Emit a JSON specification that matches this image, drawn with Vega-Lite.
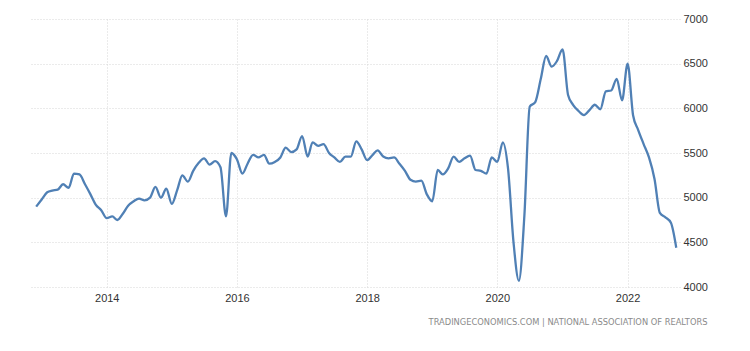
{
  "$schema": "https://vega.github.io/schema/vega-lite/v6.json",
  "autosize": {"type": "none"},
  "width": 649,
  "height": 268,
  "padding": {"left": 31, "top": 19, "right": 70, "bottom": 64},
  "background": "white",
  "title": {
    "text": "TRADINGECONOMICS.COM  |  NATIONAL ASSOCIATION OF REALTORS",
    "orient": "bottom",
    "anchor": "end",
    "fontSize": 8.3,
    "font": "DejaVu Sans",
    "fontWeight": "normal",
    "color": "#8a8a8a",
    "offset": 15,
    "dx": 0
  },
  "data": {
    "values": [
      {"date": "2012-12-01", "value": 4900},
      {"date": "2013-01-01", "value": 4980},
      {"date": "2013-02-01", "value": 5060},
      {"date": "2013-03-01", "value": 5080},
      {"date": "2013-04-01", "value": 5090},
      {"date": "2013-05-01", "value": 5150},
      {"date": "2013-06-01", "value": 5110},
      {"date": "2013-07-01", "value": 5270},
      {"date": "2013-08-01", "value": 5260},
      {"date": "2013-09-01", "value": 5150},
      {"date": "2013-10-01", "value": 5040},
      {"date": "2013-11-01", "value": 4920},
      {"date": "2013-12-01", "value": 4860},
      {"date": "2014-01-01", "value": 4770},
      {"date": "2014-02-01", "value": 4790},
      {"date": "2014-03-01", "value": 4750},
      {"date": "2014-04-01", "value": 4820},
      {"date": "2014-05-01", "value": 4910},
      {"date": "2014-06-01", "value": 4960},
      {"date": "2014-07-01", "value": 4990},
      {"date": "2014-08-01", "value": 4970},
      {"date": "2014-09-01", "value": 5000},
      {"date": "2014-10-01", "value": 5120},
      {"date": "2014-11-01", "value": 5000},
      {"date": "2014-12-01", "value": 5100},
      {"date": "2015-01-01", "value": 4930},
      {"date": "2015-02-01", "value": 5090},
      {"date": "2015-03-01", "value": 5250},
      {"date": "2015-04-01", "value": 5180},
      {"date": "2015-05-01", "value": 5300},
      {"date": "2015-06-01", "value": 5390},
      {"date": "2015-07-01", "value": 5440},
      {"date": "2015-08-01", "value": 5370},
      {"date": "2015-09-01", "value": 5410},
      {"date": "2015-10-01", "value": 5340},
      {"date": "2015-11-01", "value": 4790},
      {"date": "2015-12-01", "value": 5500},
      {"date": "2016-01-01", "value": 5430},
      {"date": "2016-02-01", "value": 5270},
      {"date": "2016-03-01", "value": 5380},
      {"date": "2016-04-01", "value": 5480},
      {"date": "2016-05-01", "value": 5450},
      {"date": "2016-06-01", "value": 5480},
      {"date": "2016-07-01", "value": 5380},
      {"date": "2016-08-01", "value": 5400},
      {"date": "2016-09-01", "value": 5450},
      {"date": "2016-10-01", "value": 5560},
      {"date": "2016-11-01", "value": 5510},
      {"date": "2016-12-01", "value": 5540},
      {"date": "2017-01-01", "value": 5690},
      {"date": "2017-02-01", "value": 5460},
      {"date": "2017-03-01", "value": 5620},
      {"date": "2017-04-01", "value": 5580},
      {"date": "2017-05-01", "value": 5600},
      {"date": "2017-06-01", "value": 5500},
      {"date": "2017-07-01", "value": 5450},
      {"date": "2017-08-01", "value": 5400},
      {"date": "2017-09-01", "value": 5460},
      {"date": "2017-10-01", "value": 5460},
      {"date": "2017-11-01", "value": 5630},
      {"date": "2017-12-01", "value": 5540},
      {"date": "2018-01-01", "value": 5420},
      {"date": "2018-02-01", "value": 5480},
      {"date": "2018-03-01", "value": 5530},
      {"date": "2018-04-01", "value": 5460},
      {"date": "2018-05-01", "value": 5440},
      {"date": "2018-06-01", "value": 5450},
      {"date": "2018-07-01", "value": 5380},
      {"date": "2018-08-01", "value": 5300},
      {"date": "2018-09-01", "value": 5200},
      {"date": "2018-10-01", "value": 5180},
      {"date": "2018-11-01", "value": 5190},
      {"date": "2018-12-01", "value": 5040},
      {"date": "2019-01-01", "value": 4960},
      {"date": "2019-02-01", "value": 5310},
      {"date": "2019-03-01", "value": 5260},
      {"date": "2019-04-01", "value": 5330},
      {"date": "2019-05-01", "value": 5460},
      {"date": "2019-06-01", "value": 5400},
      {"date": "2019-07-01", "value": 5440},
      {"date": "2019-08-01", "value": 5470},
      {"date": "2019-09-01", "value": 5310},
      {"date": "2019-10-01", "value": 5300},
      {"date": "2019-11-01", "value": 5270},
      {"date": "2019-12-01", "value": 5450},
      {"date": "2020-01-01", "value": 5400},
      {"date": "2020-02-01", "value": 5620},
      {"date": "2020-03-01", "value": 5330},
      {"date": "2020-04-01", "value": 4500},
      {"date": "2020-05-01", "value": 4070},
      {"date": "2020-06-01", "value": 4800},
      {"date": "2020-07-01", "value": 6020},
      {"date": "2020-08-01", "value": 6070},
      {"date": "2020-09-01", "value": 6330},
      {"date": "2020-10-01", "value": 6586},
      {"date": "2020-11-01", "value": 6466},
      {"date": "2020-12-01", "value": 6530},
      {"date": "2021-01-01", "value": 6660},
      {"date": "2021-02-01", "value": 6150},
      {"date": "2021-03-01", "value": 6040},
      {"date": "2021-04-01", "value": 5970},
      {"date": "2021-05-01", "value": 5925},
      {"date": "2021-06-01", "value": 5980},
      {"date": "2021-07-01", "value": 6040},
      {"date": "2021-08-01", "value": 5990},
      {"date": "2021-09-01", "value": 6190},
      {"date": "2021-10-01", "value": 6200},
      {"date": "2021-11-01", "value": 6330},
      {"date": "2021-12-01", "value": 6090},
      {"date": "2022-01-01", "value": 6500},
      {"date": "2022-02-01", "value": 5920},
      {"date": "2022-03-01", "value": 5760},
      {"date": "2022-04-01", "value": 5600},
      {"date": "2022-05-01", "value": 5450},
      {"date": "2022-06-01", "value": 5210},
      {"date": "2022-07-01", "value": 4830},
      {"date": "2022-08-01", "value": 4780},
      {"date": "2022-09-01", "value": 4720},
      {"date": "2022-10-01", "value": 4440}
    ]
  },
  "mark": {"type": "line", "interpolate": "monotone", "color": "#5080b5", "strokeWidth": 2.3},
  "encoding": {
    "x": {
      "field": "date",
      "type": "temporal",
      "scale": {
        "type": "utc",
        "domain": [
          {"year": 2012, "month": 11, "date": 2, "utc": true},
          {"year": 2022, "month": 10, "date": 22, "utc": true}
        ]
      },
      "axis": {
        "title": null,
        "values": [
          {"year": 2014, "month": 1, "date": 1, "utc": true},
          {"year": 2016, "month": 1, "date": 1, "utc": true},
          {"year": 2018, "month": 1, "date": 1, "utc": true},
          {"year": 2020, "month": 1, "date": 1, "utc": true},
          {"year": 2022, "month": 1, "date": 1, "utc": true}
        ],
        "format": "%Y",
        "formatType": "utc",
        "domain": false,
        "ticks": false,
        "labelPadding": 5,
        "labelFont": "Liberation Sans",
        "labelFontSize": 11,
        "labelColor": "#333333",
        "grid": true,
        "gridColor": "#d6d6d6",
        "gridDash": [1, 2],
        "gridWidth": 1
      }
    },
    "y": {
      "field": "value",
      "type": "quantitative",
      "scale": {"domain": [4000, 7000], "nice": false, "zero": false},
      "axis": {
        "title": null,
        "orient": "right",
        "values": [4000, 4500, 5000, 5500, 6000, 6500, 7000],
        "format": "d",
        "domain": false,
        "ticks": false,
        "labelPadding": 3,
        "labelFont": "Liberation Sans",
        "labelFontSize": 11,
        "labelColor": "#333333",
        "grid": true,
        "gridColor": "#d6d6d6",
        "gridDash": [1, 2],
        "gridWidth": 1
      }
    }
  },
  "config": {"view": {"stroke": null}}
}
